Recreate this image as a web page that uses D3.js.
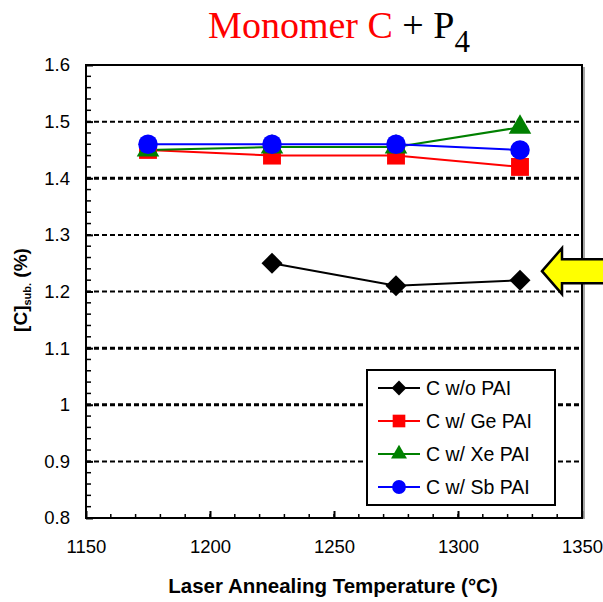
<!DOCTYPE html>
<html>
<head>
<meta charset="utf-8">
<script src="https://cdn.jsdelivr.net/npm/d3@7"></script>
<style>
  body { margin: 0; background: #fff; }
  svg { display: block; }
</style>
</head>
<body>
<div id="chart"></div>
<script>
// temperatures (°C) where each sample was measured
const temps = [1175, 1225, 1275, 1325];

// [C] sub. (%) per series
const noPai = [null, 1.25, 1.21, 1.22];
const gePai = [1.45, 1.44, 1.44, 1.42];
const xePai = [1.45, 1.455, 1.455, 1.49];
const sbPai = [1.46, 1.46, 1.46, 1.45];

const seriesNames = ['C w/o PAI', 'C w/ Ge PAI', 'C w/ Xe PAI', 'C w/ Sb PAI'];
const xTicks = [1150, 1200, 1250, 1300, 1350];
const yTicks = [0.8, 0.9, 1, 1.1, 1.2, 1.3, 1.4, 1.5, 1.6];

// diamond = square turned 45 degrees
const series = [
  { name: seriesNames[0], values: noPai, color: '#000', shape: d3.symbolSquare, rot: 45, size: 220 },
  { name: seriesNames[1], values: gePai, color: '#ff0000', shape: d3.symbolSquare, rot: 0, size: 320 },
  { name: seriesNames[2], values: xePai, color: '#008000', shape: d3.symbolTriangle, rot: 0, size: 220 },
  { name: seriesNames[3], values: sbPai, color: '#0000ff', shape: d3.symbolCircle, rot: 0, size: 300 }
];

const W = 603, H = 602;
const plotL = 86, plotR = 582, plotT = 65, plotB = 518;
const sans = 'Liberation Sans, Arial, sans-serif';

const svg = d3.select('#chart').append('svg')
  .attr('width', W)
  .attr('height', H);

const x = d3.scaleLinear().domain([1150, 1350]).range([plotL, plotR]);
const y = d3.scaleLinear().domain([0.8, 1.6]).range([plotB, plotT]);

// title
const title = svg.append('text')
  .attr('x', 339)
  .attr('y', 38)
  .attr('text-anchor', 'middle')
  .attr('font-family', 'Liberation Serif, Times New Roman, serif')
  .attr('font-size', 38);
title.append('tspan').attr('fill', '#ff0000').text('Monomer C');
title.append('tspan').attr('fill', '#000').text(' + P');
title.append('tspan').attr('fill', '#000').attr('font-size', 31).attr('dy', 14).text('4');

// horizontal dashed gridlines
const thickGrid = [1.0, 1.1, 1.4];
svg.selectAll('.grid')
  .data(yTicks.filter(d => d > 0.8 && d < 1.6))
  .enter()
  .append('line')
  .attr('class', 'grid')
  .attr('x1', plotL)
  .attr('x2', plotR)
  .attr('y1', d => y(d))
  .attr('y2', d => y(d))
  .attr('stroke', '#000')
  .attr('stroke-width', d => (thickGrid.some(t => Math.abs(t - d) < 1e-6) ? 3 : 2))
  .attr('stroke-dasharray', '5,3');

// axes with inside ticks
const xAxis = d3.axisBottom(x).tickValues(xTicks).tickSize(-7).tickPadding(22)
  .tickFormat(d3.format('d'));
const yAxis = d3.axisLeft(y).tickValues(yTicks).tickSize(-7).tickPadding(16)
  .tickFormat(d => d3.format('.1f')(d).replace(/^1\.0$/, '1'));

const gx = svg.append('g').attr('transform', `translate(0,${plotB})`).call(xAxis);
const gy = svg.append('g').attr('transform', `translate(${plotL},0)`).call(yAxis);

[gx, gy].forEach(g => {
  g.select('.domain').remove();
  g.selectAll('line').attr('stroke', '#000').attr('stroke-width', 2);
  g.selectAll('text')
    .attr('font-family', sans)
    .attr('font-size', 18.5)
    .attr('fill', '#000');
});

// minor ticks
svg.append('g').selectAll('line')
  .data(d3.range(1150, 1351, 10))
  .enter()
  .append('line')
  .attr('x1', d => x(d)).attr('x2', d => x(d))
  .attr('y1', plotB).attr('y2', plotB - 4)
  .attr('stroke', '#000').attr('stroke-width', 1.5);

svg.append('g').selectAll('line')
  .data(d3.range(0.8, 1.601, 0.02))
  .enter()
  .append('line')
  .attr('x1', plotL).attr('x2', plotL + 5)
  .attr('y1', d => y(d)).attr('y2', d => y(d))
  .attr('stroke', '#000').attr('stroke-width', 1.5);

// frame
svg.append('rect')
  .attr('x', plotL).attr('y', plotT)
  .attr('width', plotR - plotL).attr('height', plotB - plotT)
  .attr('fill', 'none')
  .attr('stroke', '#000')
  .attr('stroke-width', 2);
svg.append('line')
  .attr('x1', plotR + 2).attr('x2', plotR + 2)
  .attr('y1', plotT + 2).attr('y2', plotB + 1)
  .attr('stroke', '#888').attr('stroke-width', 1.5);

// series lines + markers
const line = d3.line()
  .defined(d => d.v != null)
  .x(d => x(d.t))
  .y(d => y(d.v));

series.forEach(s => {
  const pts = temps.map((t, i) => ({ t, v: s.values[i] }));
  svg.append('path')
    .datum(pts)
    .attr('d', line)
    .attr('fill', 'none')
    .attr('stroke', s.color)
    .attr('stroke-width', 2);
});

series.forEach(s => {
  const pts = temps.map((t, i) => ({ t, v: s.values[i] })).filter(d => d.v != null);
  svg.append('g').selectAll('path')
    .data(pts)
    .enter()
    .append('path')
    .attr('transform', d => `translate(${x(d.t)},${y(d.v)}) rotate(${s.rot})`)
    .attr('d', d3.symbol().type(s.shape).size(s.size))
    .attr('fill', s.color);
});

// legend
const lg = svg.append('g').attr('transform', 'translate(367,370)');
lg.append('rect')
  .attr('width', 188).attr('height', 135)
  .attr('fill', '#fff')
  .attr('stroke', '#000')
  .attr('stroke-width', 2);
series.forEach((s, i) => {
  const row = lg.append('g').attr('transform', `translate(0,${18 + i * 33})`);
  row.append('line')
    .attr('x1', 11).attr('x2', 53)
    .attr('stroke', s.color).attr('stroke-width', 2);
  row.append('path')
    .attr('transform', `translate(32,0) rotate(${s.rot})`)
    .attr('d', d3.symbol().type(s.shape).size(s.size * 0.5))
    .attr('fill', s.color);
  row.append('text')
    .attr('x', 59)
    .attr('y', 7)
    .attr('font-family', sans)
    .attr('font-size', 19.5)
    .attr('fill', '#000')
    .text(s.name);
});

// axis titles
svg.append('text')
  .attr('x', 333)
  .attr('y', 593)
  .attr('text-anchor', 'middle')
  .attr('font-family', sans)
  .attr('font-weight', 'bold')
  .attr('font-size', 20.5)
  .text('Laser Annealing Temperature (°C)');

const yl = svg.append('text')
  .attr('transform', 'translate(27,290) rotate(-90)')
  .attr('text-anchor', 'middle')
  .attr('font-family', sans)
  .attr('font-weight', 'bold')
  .attr('font-size', 19);
yl.append('tspan').text('[C]');
yl.append('tspan').attr('font-size', 11).attr('dy', 4).text('sub.');
yl.append('tspan').attr('dy', -4).text(' (%)');

// yellow arrow pointing at the w/o PAI series
const arrowY = y(1.22) - 9;
svg.append('path')
  .attr('d', `M${542},${arrowY} L${562},${arrowY - 23} L${562},${arrowY - 12} L${610},${arrowY - 12}
    L${610},${arrowY + 12} L${562},${arrowY + 12} L${562},${arrowY + 23} Z`)
  .attr('fill', '#ffff00')
  .attr('stroke', '#000')
  .attr('stroke-width', 2.5)
  .attr('stroke-linejoin', 'miter');
</script>
</body>
</html>
